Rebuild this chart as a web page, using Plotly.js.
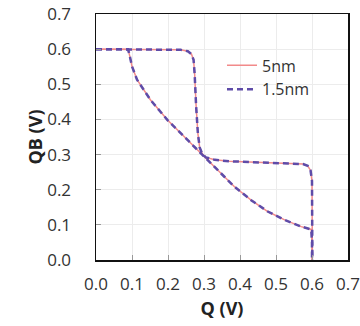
<!DOCTYPE html>
<html><head><meta charset="utf-8">
<script src="https://cdn.plot.ly/plotly-3.0.1.min.js"></script>
<style>html,body{margin:0;padding:0;background:#fff;}#c{width:360px;height:326px;}</style>
</head><body><div id="c"></div>
<script>
// Curve A (flat top, vertical near 0.28, plateau ~0.28, vertical at 0.6)
const qA = [0.0, 0.10, 0.20, 0.235, 0.255, 0.265, 0.271, 0.274, 0.278, 0.283, 0.288, 0.295, 0.305, 0.33, 0.37, 0.42, 0.48, 0.54, 0.575, 0.588, 0.596, 0.600, 0.601, 0.601];
const qbA = [0.600, 0.600, 0.600, 0.598, 0.594, 0.586, 0.570, 0.530, 0.440, 0.360, 0.320, 0.302, 0.292, 0.285, 0.281, 0.279, 0.277, 0.275, 0.273, 0.268, 0.255, 0.225, 0.100, 0.0];
// Curve B (smooth decreasing curve)
const qB = [0.0, 0.05, 0.089, 0.095, 0.100, 0.114, 0.151, 0.198, 0.253, 0.300, 0.337, 0.384, 0.430, 0.477, 0.524, 0.570, 0.598, 0.600, 0.600];
const qbB = [0.600, 0.600, 0.600, 0.575, 0.551, 0.513, 0.456, 0.399, 0.342, 0.296, 0.256, 0.209, 0.171, 0.138, 0.114, 0.095, 0.087, 0.050, 0.0];
const seriesNames = ['5nm', '1.5nm'];

const xs = qA.concat([null], qB);
const ys = qbA.concat([null], qbB);

const traces = [
  {x: xs, y: ys, name: seriesNames[0], mode: 'lines', connectgaps: false,
   line: {color: '#f28a8a', width: 1.5}},
  {x: xs, y: ys, name: seriesNames[1], mode: 'lines', connectgaps: false,
   line: {color: '#5f4ca8', width: 2.5, dash: '6px,4px'}}
];
const fam = 'Open Sans, Liberation Sans, sans-serif';
const tickFont = {family: fam, size: 17, color: '#333'};
const layout = {
  width: 360, height: 326,
  margin: {l: 96, r: 12, t: 14, b: 66},
  paper_bgcolor: '#fff', plot_bgcolor: '#fff',
  font: tickFont,
  showlegend: true,
  legend: {x: 0.5, y: 0.86, xanchor: 'left', yanchor: 'top', bgcolor: 'rgba(0,0,0,0)',
           font: {family: fam, size: 16, color: '#333'}, itemwidth: 30, tracegroupgap: 0},
  xaxis: {range: [0, 0.7], dtick: 0.1, tickformat: '.1f', showgrid: true, gridcolor: '#ececec',
          showline: true, linecolor: '#111', linewidth: 1.5, mirror: true,
          ticks: 'inside', ticklen: 5, tickcolor: '#999', zeroline: false,
          tickfont: tickFont, ticklabelstandoff: 8,
          title: {text: '<b>Q (V)</b>', font: {family: fam, size: 18, color: '#222'}, standoff: 8}},
  yaxis: {range: [0, 0.7], dtick: 0.1, tickformat: '.1f', showgrid: true, gridcolor: '#ececec',
          showline: true, linecolor: '#111', linewidth: 1.5, mirror: true,
          ticks: 'inside', ticklen: 5, tickcolor: '#999', zeroline: false,
          tickfont: tickFont, ticklabelstandoff: 20,
          title: {text: '<b>QB (V)</b>', font: {family: fam, size: 18, color: '#222'}, standoff: 0}}
};
Plotly.newPlot('c', traces, layout, {displayModeBar: false, staticPlot: true});
</script></body></html>
